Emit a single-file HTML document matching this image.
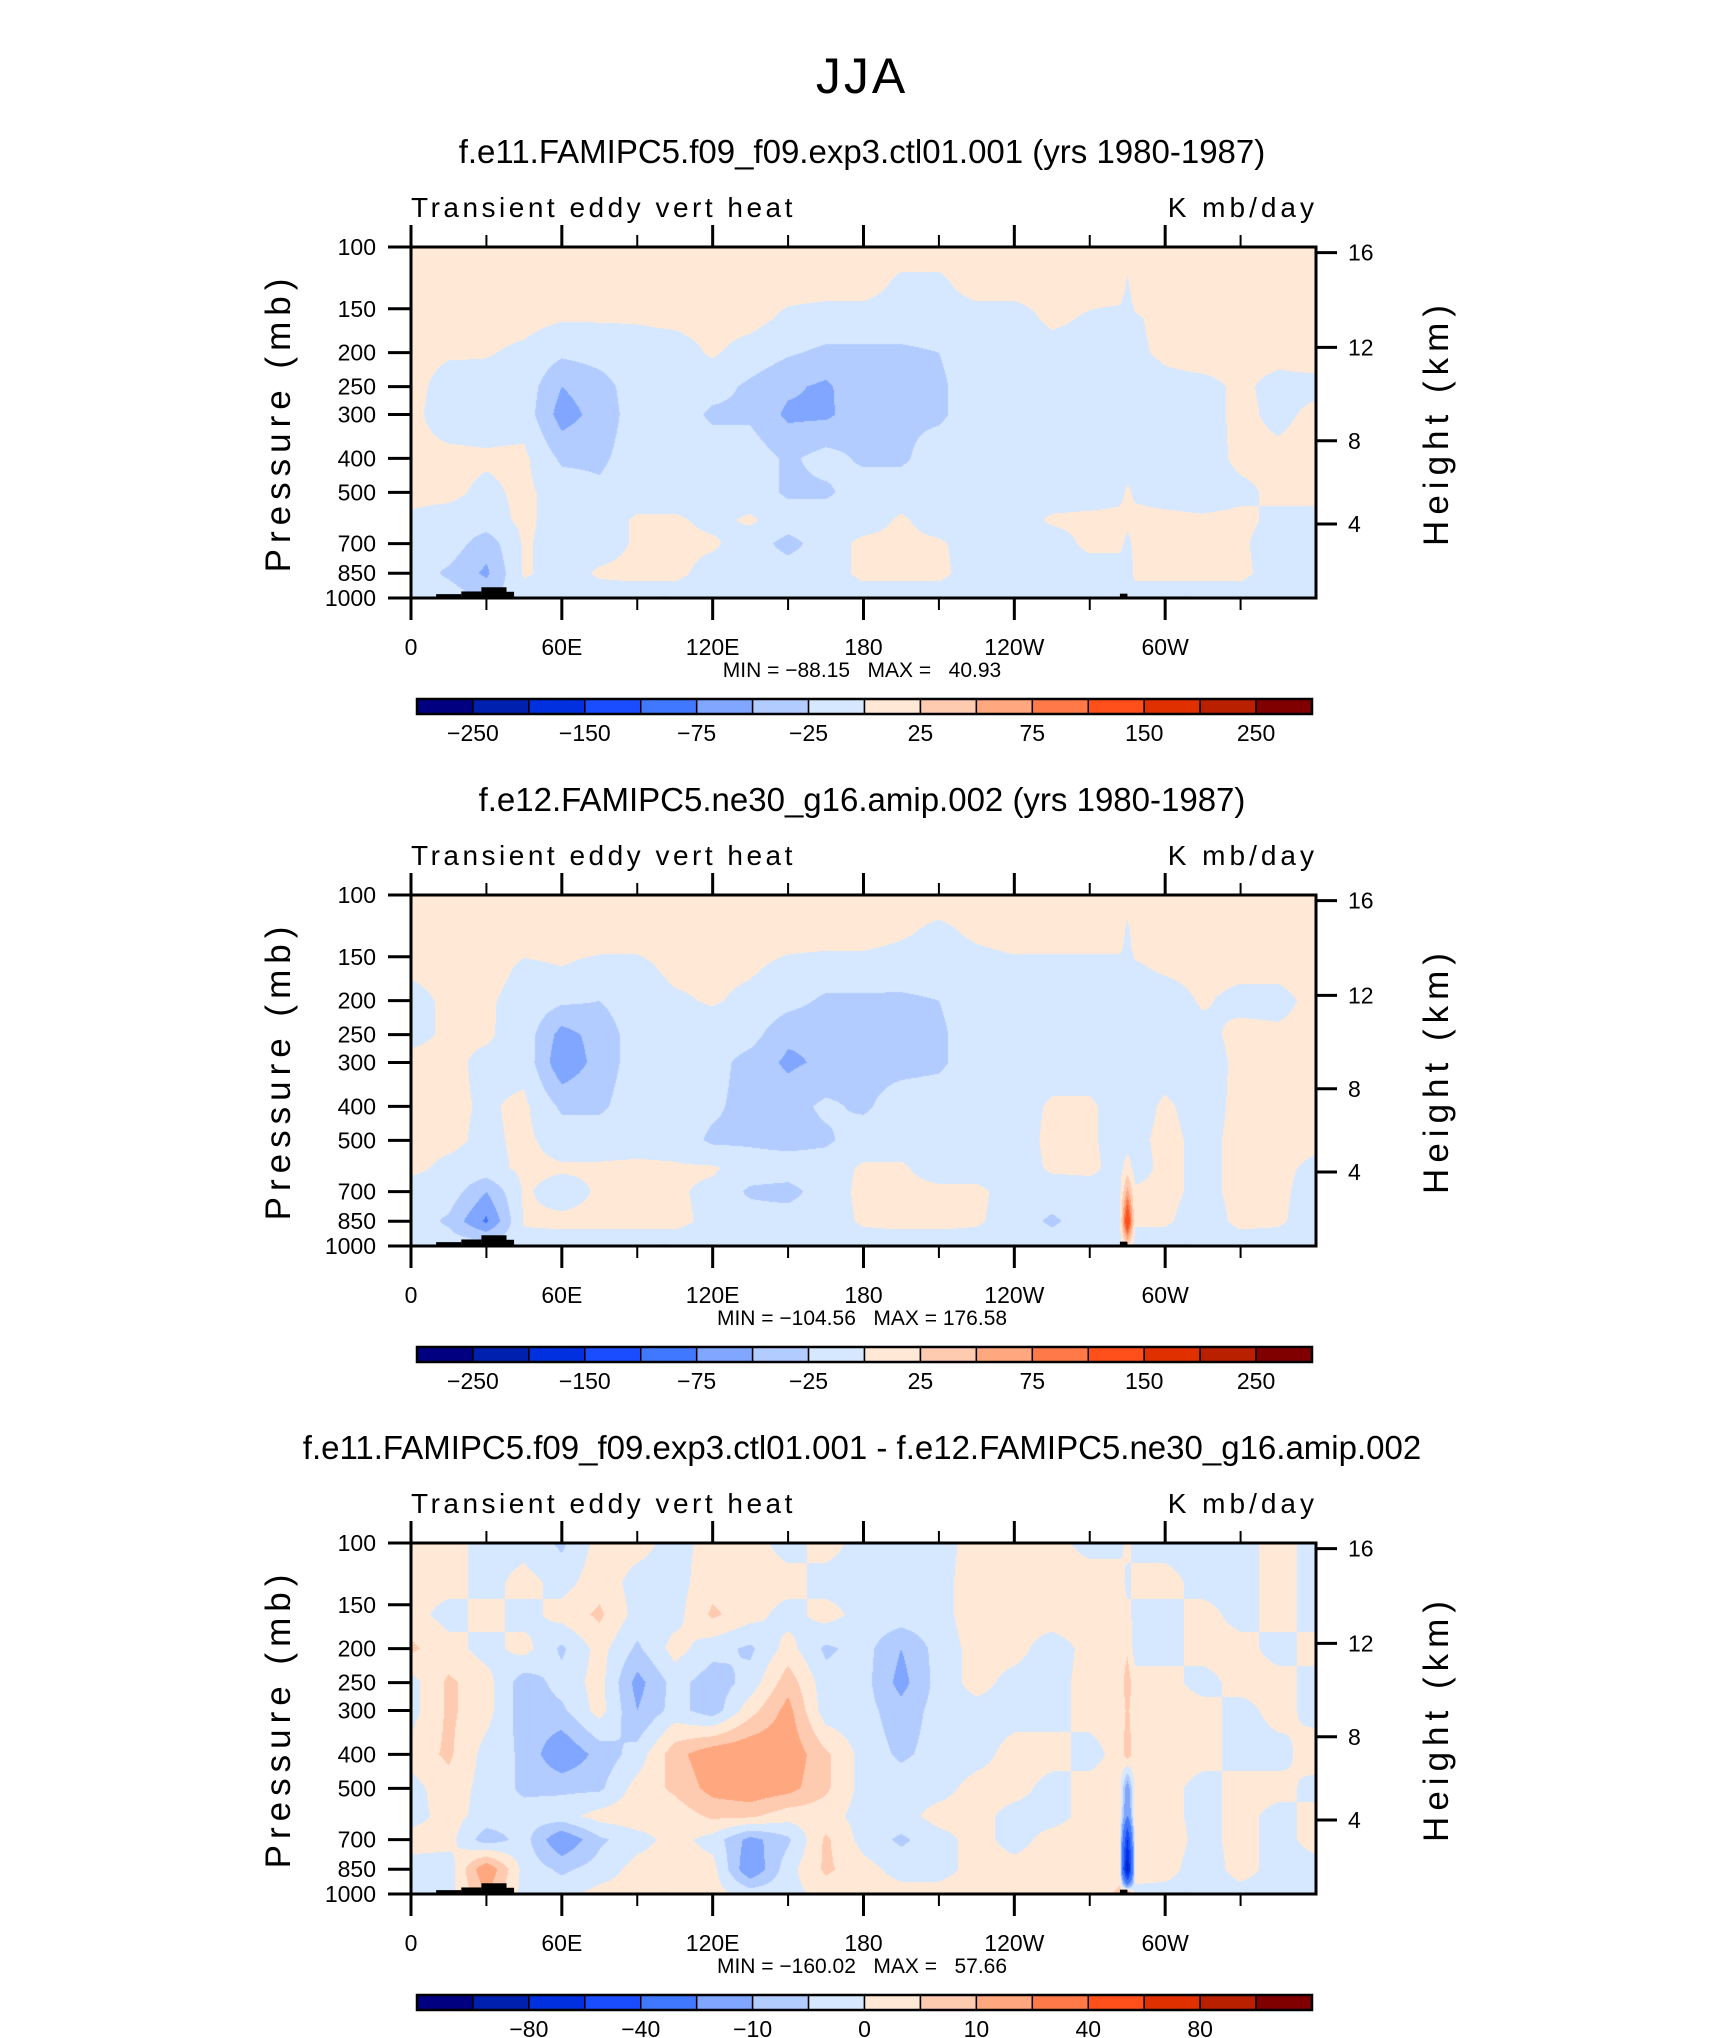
<!DOCTYPE html>
<html><head><meta charset="utf-8">
<style>
html,body{margin:0;padding:0;background:#fff;}
#wrap{position:relative;width:1710px;height:2038px;overflow:hidden;background:#fff;}
canvas{position:absolute;}
svg{position:absolute;left:0;top:0;}
text{font-family:"Liberation Sans",sans-serif;fill:#000;}
</style></head>
<body>
<div id="wrap">
<canvas id="c0" width="905" height="351" style="left:411px;top:247px"></canvas>
<canvas id="c1" width="905" height="351" style="left:411px;top:895px"></canvas>
<canvas id="c2" width="905" height="351" style="left:411px;top:1543px"></canvas>
<svg id="ov" width="1710" height="2038"></svg>
</div>
<script>
const lons=[0,15,30,45,60,75,90,105,120,135,150,165,180,195,210,225,240,255,270,282,285,288,300,315,330,345,360];
const pLevels=[100,130,160,200,250,300,400,500,600,700,850,1000];
const p1=[
[8,8,8,8,8,8,8,8,8,8,8,8,8,8,8,8,8,8,8,8,8,8,8,8,8,8,8],
[8,8,8,8,8,8,8,8,8,8,8,8,8,-5,-5,8,8,8,8,8,-3,8,8,8,8,8,8],
[8,8,8,8,2,2,2,5,8,8,-5,-10,-10,-10,-10,-10,-10,5,-3,-6,-8,-2,5,8,8,8,8],
[8,3,2,-5,-20,-15,-10,-10,3,-10,-22,-30,-30,-30,-25,-10,-10,-10,-10,-9,-8,-3,3,8,5,5,8],
[8,-10,-10,-10,-50,-35,-12,-10,-15,-30,-45,-55,-30,-30,-30,-10,-10,-10,-10,-10,-10,-8,-5,-5,3,-5,-5],
[5,-10,-10,-10,-62,-40,-12,-10,-30,-30,-55,-55,-35,-30,-30,-10,-10,-10,-10,-10,-10,-9,-8,-8,5,-5,5],
[5,5,3,5,-30,-30,-12,-10,-10,-10,-30,-15,-30,-30,-10,-10,-10,-10,-10,-10,-10,-9,-8,-10,5,5,8],
[5,5,-5,5,-10,-20,-10,-10,-10,-10,-30,-30,-10,-10,-10,-10,-10,-10,-10,-5,3,-3,-8,-10,-5,5,5],
[-3,-8,-10,5,-10,-10,3,3,-5,3,-10,-10,-10,3,-10,-10,-10,3,5,5,5,5,5,3,5,-5,-5],
[-10,-10,-40,3,-10,-10,3,5,3,-10,-35,-10,5,5,3,-10,-10,-10,5,5,-5,5,5,5,3,-10,-10],
[-10,-30,-55,3,-10,3,5,5,-8,-10,-10,-10,5,5,5,-10,-10,-10,-10,-10,-15,5,5,5,5,-10,-10],
[-10,-10,-30,-10,-10,-10,-10,-10,-10,-10,-10,-10,-10,-10,-10,-10,-10,-10,-10,-10,-10,-10,-10,-10,-10,-10,-10]];
const p2=[
[8,8,8,8,8,8,8,8,8,8,8,8,8,8,8,8,8,8,8,8,8,8,8,8,8,8,8],
[8,8,8,8,8,8,8,8,8,8,8,8,8,2,-5,3,8,8,8,8,-5,8,8,8,8,8,8],
[3,5,8,-3,0,-5,-5,5,5,3,-5,-8,-8,-10,-10,-8,-5,-5,-5,-5,-5,-2,3,5,5,5,8],
[-5,3,3,-8,-20,-25,-10,-3,2,-5,-15,-30,-30,-30,-25,-10,-10,-10,-10,-10,-15,-9,-8,2,-5,-5,5],
[-5,3,3,-10,-60,-40,-12,-10,-10,-15,-45,-45,-30,-30,-30,-10,-10,-10,-10,-10,-20,-10,-10,-5,5,3,5],
[5,5,-5,-8,-70,-40,-12,-10,-15,-35,-55,-45,-35,-35,-30,-10,-10,-10,-10,-10,-12,-10,-8,-10,5,5,5],
[5,5,-3,5,-30,-30,-10,-10,-20,-35,-35,-20,-30,-10,-10,-10,-10,3,3,-8,-10,-8,3,-8,5,5,5],
[5,5,-5,5,-10,-10,-10,-10,-30,-30,-35,-30,-10,-10,-10,-10,-10,5,3,-8,-10,-5,5,-5,5,8,5],
[5,-5,-8,5,3,3,5,3,3,-10,-10,-10,3,3,-10,-10,-10,3,5,-8,10,-8,5,-5,5,5,-5],
[-10,-10,-50,3,-10,3,5,3,-5,-30,-35,-10,5,5,5,5,-10,-10,-10,-5,60,3,5,-5,5,5,-10],
[-10,-30,-80,3,5,5,5,5,-5,-10,-10,-10,3,5,5,3,-10,-30,-10,-5,150,3,3,-10,5,3,-10],
[-10,-10,-10,-10,-10,-10,-10,-10,-10,-10,-10,-10,-10,-10,-10,-10,-10,-10,-10,-10,20,-10,-10,-10,-10,-10,-10]];
const p3=[
[2,2,-2,-2,-6,2,2,-2,2,2,-2,2,-2,-2,-2,2,2,2,-2,-2,2,-2,-2,-2,-2,2,-2],
[2,2,-2,2,-2,3,-2,-2,3,2,2,-2,-2,-2,-2,3,3,2,3,3,-2,2,2,-2,-2,2,-2],
[2,-2,2,-2,2,6,-2,-2,6,2,-2,2,-2,-2,-2,3,2,3,3,3,2,-2,-2,2,-2,2,-2],
[6,2,-2,2,-6,2,-6,2,-3,-6,2,-6,-3,-10,-3,2,2,-3,2,2,4,-2,-2,2,2,-2,2],
[-2,6,2,-8,-3,2,-12,-3,-8,-3,8,-3,-3,-12,-3,2,-2,-2,2,2,8,2,2,-2,2,2,-2],
[-2,6,2,-8,-6,2,-10,-3,-8,3,12,-3,-3,-8,-3,-2,-2,-2,2,2,6,2,2,2,-2,2,-2],
[2,6,-2,-6,-15,-8,-3,8,14,15,14,6,-2,-6,-3,-2,2,2,-2,2,8,2,2,2,-2,-2,3],
[-2,3,-2,-6,-6,-6,2,6,12,14,12,6,-2,-2,-2,2,2,-2,2,2,-15,2,2,-2,2,2,-2],
[-2,2,-2,-3,-2,2,3,2,6,6,2,2,-2,-2,2,2,-2,-2,2,2,-20,3,2,-2,2,-2,2],
[2,2,-8,-3,-15,-6,-2,2,-2,-12,-6,6,-2,-6,-2,2,-2,2,2,2,-60,3,3,-2,2,-2,2],
[-2,-3,15,-2,-6,-3,2,2,2,-15,-2,6,2,-2,-2,2,2,2,2,3,-90,3,2,-3,2,-2,-2],
[-2,-2,10,-2,-2,2,2,2,2,-2,-2,2,2,2,2,2,2,2,2,6,20,-2,-2,-2,-2,-2,-2]];
const levMain=[-250,-200,-150,-100,-75,-50,-25,0,25,50,75,100,150,200,250];
const levDiff=[-100,-80,-60,-40,-20,-10,-5,0,5,10,20,40,60,80,100];
const labMain=["-250","-150","-75","-25","25","75","150","250"];
const labDiff=["-80","-40","-10","0","10","40","80"];
const minmax=["MIN = \u221288.15   MAX =   40.93","MIN = \u2212104.56   MAX = 176.58","MIN = \u2212160.02   MAX =   57.66"];
const titles=["f.e11.FAMIPC5.f09_f09.exp3.ctl01.001 (yrs 1980-1987)","f.e12.FAMIPC5.ne30_g16.amip.002 (yrs 1980-1987)","f.e11.FAMIPC5.f09_f09.exp3.ctl01.001 - f.e12.FAMIPC5.ne30_g16.amip.002"];
const topo=[[10,20,975],[20,28,958],[28,38,932],[38,41,960],[100,102,990],[112,114,992],[282,285,972],[285,310,990]];
const colors=["#000080","#0020b0","#0030e0","#1a4dff","#4078ff","#80a6ff","#b3ccff","#d6e8ff","#ffe8d6","#ffcbb0","#ffa880","#ff7a48","#ff4f1a","#e03000","#b82000","#800000"];

const X0=411,W=905,H=351,tops=[247,895,1543];
function xOf(lon){return X0+lon/360*W;}
function yOf(p,top){return top+Math.log10(p/100)*H;}
function rgb(h){return [parseInt(h.substr(1,2),16),parseInt(h.substr(3,2),16),parseInt(h.substr(5,2),16)];}
const rgbs=colors.map(rgb);
function sample(g,lon,p){
  let j=0;while(j<lons.length-2&&lons[j+1]<=lon)j++;
  let tx=(lon-lons[j])/(lons[j+1]-lons[j]);
  let lp=Math.log10(p);let i=0;
  while(i<pLevels.length-2&&Math.log10(pLevels[i+1])<lp)i++;
  let a=Math.log10(pLevels[i]),b=Math.log10(pLevels[i+1]);let ty=Math.max(0,Math.min(1,(lp-a)/(b-a)));
  const v00=g[i][j],v01=g[i][j+1],v10=g[i+1][j],v11=g[i+1][j+1];
  return (v00*(1-tx)+v01*tx)*(1-ty)+(v10*(1-tx)+v11*tx)*ty;
}
function cls(v,lev){let k=0;for(const l of lev)if(v>=l)k++;return k;}
[[p1,levMain],[p2,levMain],[p3,levDiff]].forEach((d,idx)=>{
  const cv=document.getElementById('c'+idx);const ctx=cv.getContext('2d');
  const img=ctx.createImageData(W,H);
  for(let y=0;y<H;y++){const p=100*Math.pow(10,(y+0.5)/H);
    for(let x=0;x<W;x++){const lon=(x+0.5)/W*360;const c=rgbs[cls(sample(d[0],lon,p),d[1])];
      const o=(y*W+x)*4;img.data[o]=c[0];img.data[o+1]=c[1];img.data[o+2]=c[2];img.data[o+3]=255;}}
  ctx.putImageData(img,0,0);
});

const NS="http://www.w3.org/2000/svg";const svg=document.getElementById('ov');
function el(t,a,txt){const e=document.createElementNS(NS,t);for(const k in a)e.setAttribute(k,a[k]);if(txt!==undefined)e.textContent=txt;svg.appendChild(e);return e;}
let e=el('text',{x:862,y:93,'font-size':50,'text-anchor':'middle','letter-spacing':'3'},'JJA');


const pTicks=[100,150,200,250,300,400,500,700,850,1000];
const hTicks=["16","12","8","4"];const hFrac=[0.984,0.714,0.448,0.211];
const lonMaj=[0,60,120,180,240,300];const lonLab=["0","60E","120E","180","120W","60W"];
const lonMin=[30,90,150,210,270,330];
tops.forEach((top,k)=>{
  const bot=top+H;
  e=el('text',{x:862,y:top-84,'font-size':33,'text-anchor':'middle'},titles[k]);
  
  
  e=el('text',{x:411,y:top-30,'font-size':28,'letter-spacing':'3.5'},'Transient eddy vert heat');
  
  
  e=el('text',{x:1318,y:top-30,'font-size':28,'text-anchor':'end','letter-spacing':'4'},'K mb/day');
  
  
  topo.forEach(t=>{e=el('rect',{x:xOf(t[0]),y:yOf(t[2],top),width:xOf(t[1])-xOf(t[0]),height:bot-yOf(t[2],top),fill:'#000'});
    
    });
  e=el('rect',{x:X0,y:top,width:W,height:H,fill:'none',stroke:'#000','stroke-width':3});
  
  
  lonMaj.forEach((l,i)=>{const x=xOf(l);
    el('line',{x1:x,y1:top,x2:x,y2:top-22,stroke:'#000','stroke-width':3});
    el('line',{x1:x,y1:bot,x2:x,y2:bot+22,stroke:'#000','stroke-width':3});
    e=el('text',{x:x,y:bot+57,'font-size':23,'text-anchor':'middle'},lonLab[i]);
    
    });
  lonMin.forEach(l=>{const x=xOf(l);
    el('line',{x1:x,y1:top,x2:x,y2:top-12,stroke:'#000','stroke-width':2});
    el('line',{x1:x,y1:bot,x2:x,y2:bot+12,stroke:'#000','stroke-width':2});});
  pTicks.forEach(p=>{const y=yOf(p,top);
    el('line',{x1:X0,y1:y,x2:X0-23,y2:y,stroke:'#000','stroke-width':3});
    e=el('text',{x:376,y:y+8,'font-size':23,'text-anchor':'end'},String(p));
    
    });
  hTicks.forEach((h,i)=>{const y=bot-hFrac[i]*H;
    el('line',{x1:X0+W,y1:y,x2:X0+W+21,y2:y,stroke:'#000','stroke-width':3});
    e=el('text',{x:1348,y:y+8,'font-size':23},h);
    
    });
  e=el('text',{x:0,y:0,'font-size':35,'text-anchor':'middle','letter-spacing':'6',transform:`translate(290,${top+H/2}) rotate(-90)`},'Pressure (mb)');
  
  
  e=el('text',{x:0,y:0,'font-size':35,'text-anchor':'middle','letter-spacing':'6',transform:`translate(1448,${top+H/2}) rotate(-90)`},'Height (km)');
  
  
  e=el('text',{x:862,y:bot+79,'font-size':21,'text-anchor':'middle',style:'white-space:pre'},minmax[k]);
  
  
  const cb0=417,cbw=895,cy=top+452,bw=cbw/16;
  colors.forEach((c,i)=>{e=el('rect',{x:cb0+i*bw,y:cy,width:bw,height:15,fill:c,stroke:'#000','stroke-width':1.5});
    
    });
  el('rect',{x:cb0,y:cy,width:cbw,height:15,fill:'none',stroke:'#000','stroke-width':2.5});
  const labs=k<2?labMain:labDiff;const start=k<2?1:2;
  labs.forEach((t,i)=>{const b=start+i*2;
    e=el('text',{x:cb0+b*bw,y:cy+42,'font-size':23,'text-anchor':'middle'},t.replace('-','\u2212'));
    
    });
});
</script>
</body></html>
